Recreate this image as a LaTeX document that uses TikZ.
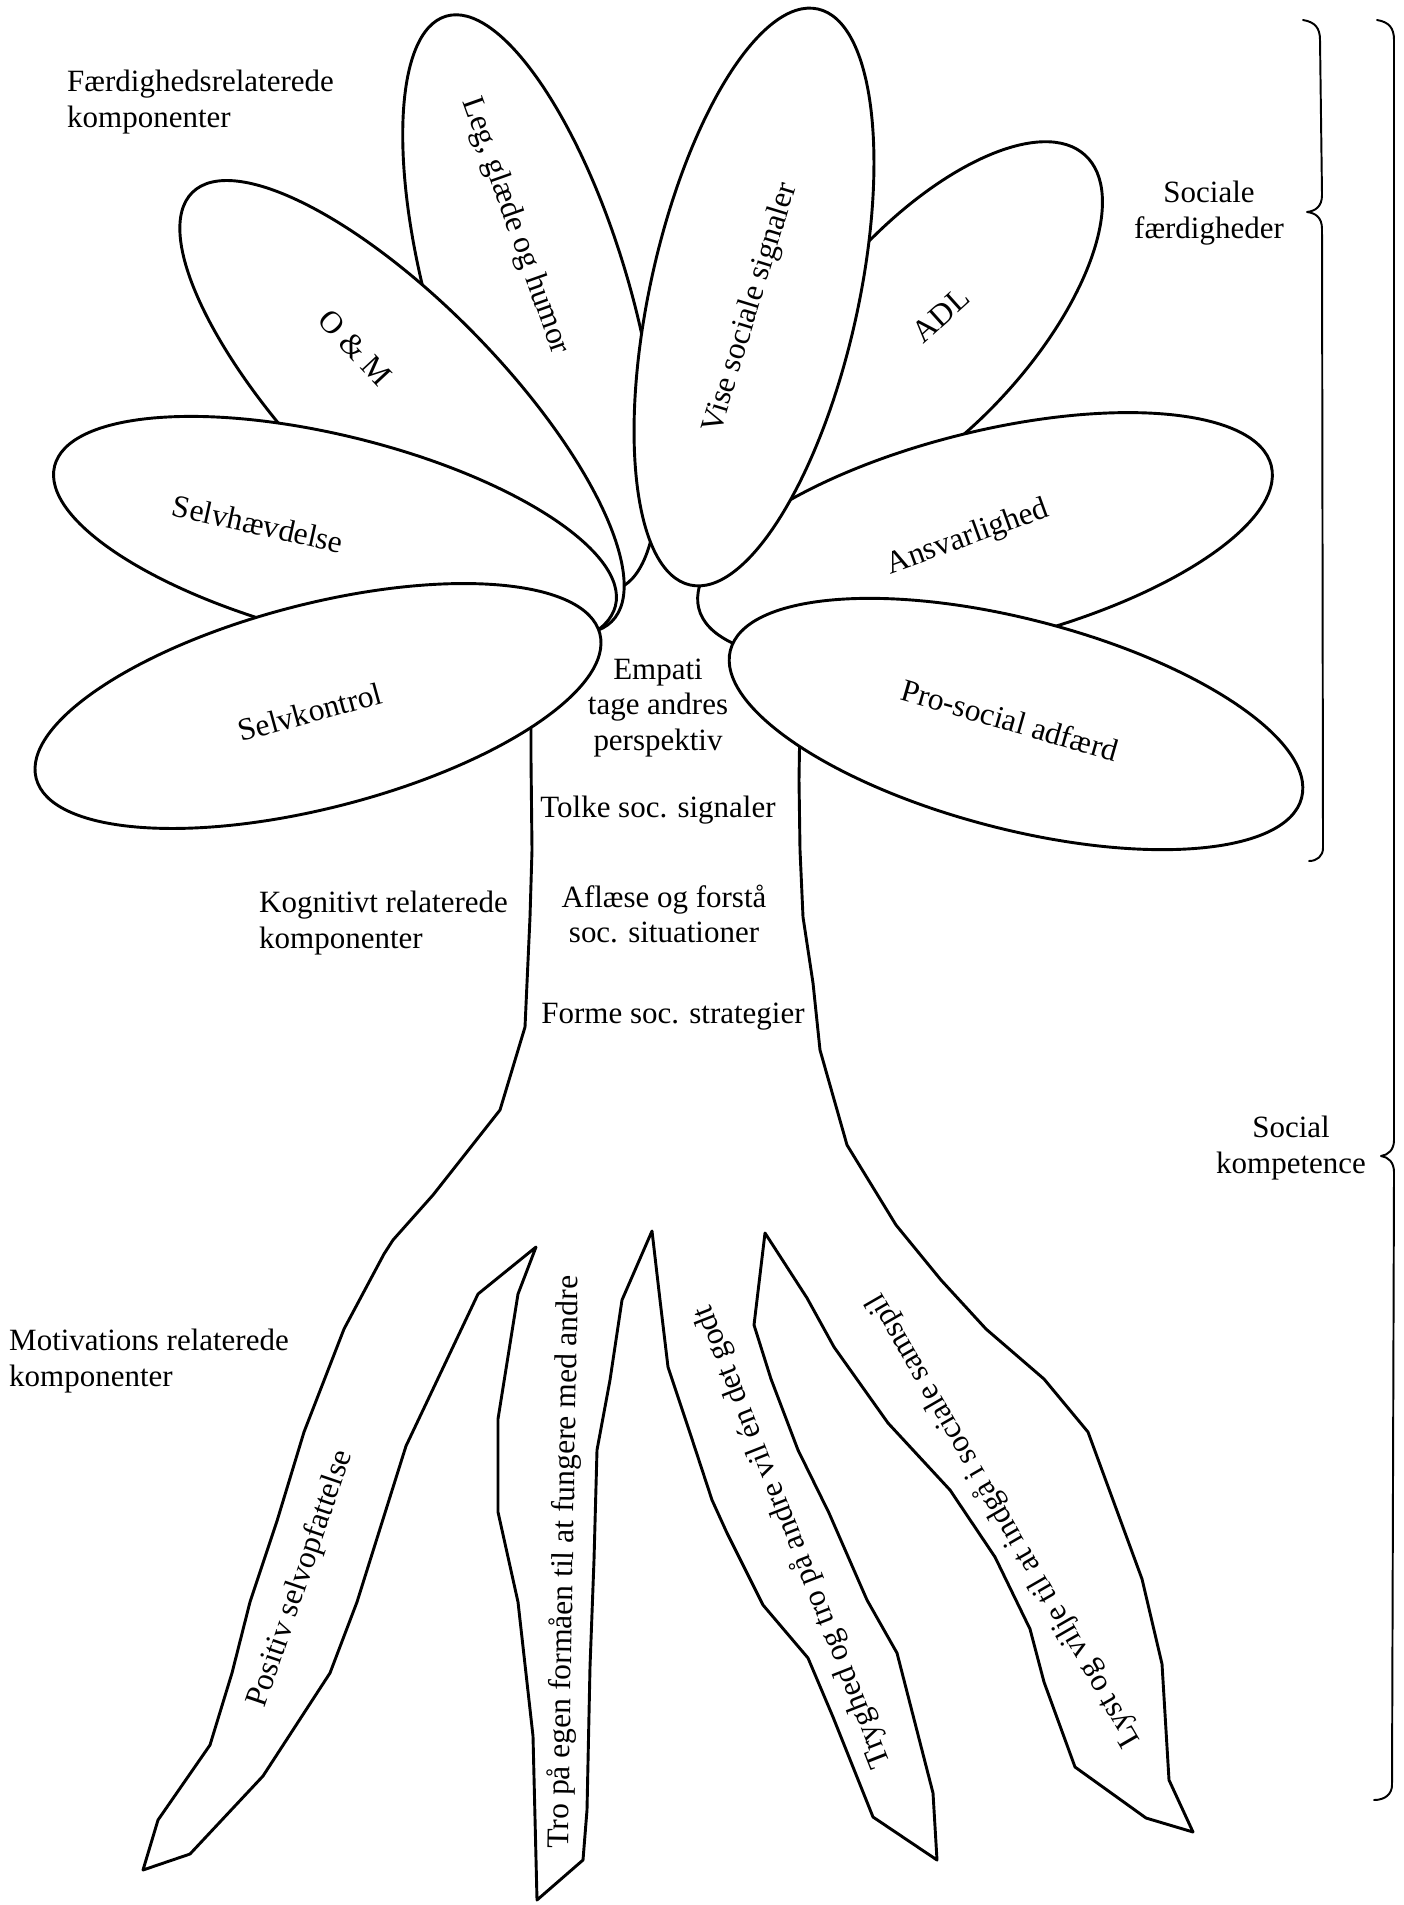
\documentclass[tikz,border=0pt]{standalone}
\usepackage{fontspec}
\setmainfont{Liberation Serif}
\begin{document}
\begin{tikzpicture}[x=0.8233pt,y=-0.8233pt, line join=round, line cap=round]
\tikzset{
 petal/.style={draw=black, fill=white, line width=2.4pt},
 outline/.style={draw=black, line width=2.4pt},
 brace/.style={draw=black, line width=1.6pt},
 lab/.style={font=\fontsize{25.5}{29.6}\selectfont, inner sep=0pt},
 ptxt/.style={font=\fontsize{26}{30}\selectfont, inner sep=0pt},
}
\useasboundingbox (0,0) rectangle (1403,1905);
% trunk and roots
\draw[outline] (531,690) -- (531,760) -- (532,850) -- (530,917) -- (527,983) -- (525,1027) -- (500,1110) -- (433,1195) -- (393,1240) -- (384,1254) -- (344,1329) -- (304,1432) -- (277,1521) -- (250,1602) -- (232,1673) -- (210,1745) -- (158,1820) -- (143,1870) -- (190,1854) -- (263,1776) -- (330,1673) -- (357,1602) -- (406,1446) -- (478,1294) -- (536,1247) -- (518,1294) -- (498,1419) -- (498,1512) -- (518,1602) -- (533,1736) -- (537,1900) -- (583,1860) -- (587,1810) -- (590,1667) -- (594,1560) -- (597,1450) -- (610,1380) -- (622,1300) -- (652,1231) -- (660,1300) -- (668,1367) -- (690,1433) -- (712,1500) -- (727,1533) -- (763,1605) -- (808,1658) -- (833,1717) -- (873,1817) -- (937,1860) -- (933,1793) -- (897,1653) -- (867,1600) -- (829,1513) -- (798,1450) -- (771,1379) -- (754,1325) -- (765,1233) -- (807,1298) -- (834,1347) -- (888,1423) -- (950,1490) -- (995,1557) -- (1030,1629) -- (1044,1682) -- (1075,1767) -- (1146,1818) -- (1193,1832) -- (1169,1780) -- (1162,1664) -- (1142,1579) -- (1088,1432) -- (1044,1379) -- (986,1329) -- (941,1280) -- (896,1225) -- (847,1145) -- (820,1050) -- (813,983) -- (803,917) -- (800,850) -- (799,780) -- (800,715);
% petals, back to front
\path[petal, rotate around={-73.6:(530.5,303)}] (530.5,303) ellipse [x radius=299, y radius=100];
\path[petal, rotate around={47.6:(930,325)}] (930,325) ellipse [x radius=230, y radius=102];
\path[petal, rotate around={-45.7:(402,407)}] (402,407) ellipse [x radius=300, y radius=103];
\path[petal, rotate around={-14:(335,536)}] (335,536) ellipse [x radius=289, y radius=100];
\path[petal, rotate around={14.4:(318,706)}] (318,706) ellipse [x radius=291, y radius=102];
\path[petal, rotate around={14:(985,537)}] (985,537) ellipse [x radius=295, y radius=105];
\path[petal, rotate around={77.5:(754,297)}] (754,297) ellipse [x radius=295, y radius=104];
\path[petal, rotate around={-14.5:(1016,724)}] (1016,724) ellipse [x radius=295, y radius=105];
% braces
\draw[brace] (1303,20) .. controls (1315,22) and (1320,28) .. (1320,40) -- (1322,195) .. controls (1322,207) and (1315,211) .. (1307,212) .. controls (1315,213) and (1322,217) .. (1322,229) -- (1323,848) .. controls (1323,856) and (1317,861) .. (1309,861);
\draw[brace] (1377,20) .. controls (1389,22) and (1394,28) .. (1394,40) -- (1394,1140) .. controls (1394,1150) and (1388,1155) .. (1381,1156) .. controls (1388,1157) and (1394,1162) .. (1394,1172) -- (1392,1785) .. controls (1392,1794) and (1385,1800) .. (1374,1800);
% labels
\node[lab, anchor=west, align=left] (faerd) at (67,102) {Færdighedsrelaterede\\komponenter};
\node[lab, align=center] (socf) at (1209,213) {Sociale\\færdigheder};
\node[lab, anchor=west, align=left] (kogn) at (259,923) {Kognitivt relaterede\\komponenter};
\node[lab, align=center] (sock) at (1291,1148) {Social\\kompetence};
\node[lab, anchor=west, align=left] (motiv) at (9,1361) {Motivations relaterede\\komponenter};
\node[lab, align=center] (emp) at (658,708) {Empati\\tage andres\\perspektiv};
\node[lab] (tolke) at (658,810) {Tolke soc. signaler};
\node[lab, align=center] (aflaese) at (664,914) {Aflæse og forstå\\soc. situationer};
\node[lab] (forme) at (673,1017) {Forme soc. strategier};
% petal texts
\node[ptxt, rotate=-70.5] (tleg) at (515,226) {Leg, glæde og humor};
\node[ptxt, rotate=-47] (tom) at (355,348) {O \& M};
\node[ptxt, rotate=-12.5] (tselvh) at (258,524) {Selvhævdelse};
\node[ptxt, rotate=15.4] (tselvk) at (310,712) {Selvkontrol};
\node[ptxt, rotate=73] (tvise) at (751,308) {Vise sociale signaler};
\node[ptxt, rotate=42] (tadl) at (941,315) {ADL};
\node[ptxt, rotate=20] (tansv) at (968,538) {Ansvarlighed};
\node[ptxt, rotate=-16] (tpro) at (1010,720) {Pro-social adfærd};
% root texts
\node[ptxt, rotate=71.2] (tpos) at (301,1579) {Positiv selvopfattelse};
\node[ptxt, rotate=89] (ttro) at (565,1562) {Tro på egen formåen til at fungere med andre};
\node[ptxt, rotate=111.4] (ttryg) at (793,1537) {Tryghed og tro på andre vil én det godt};
\node[ptxt, rotate=120] (tlyst) at (1004,1520) {Lyst og vilje til at indgå i sociale samspil};
\end{tikzpicture}
\end{document}
